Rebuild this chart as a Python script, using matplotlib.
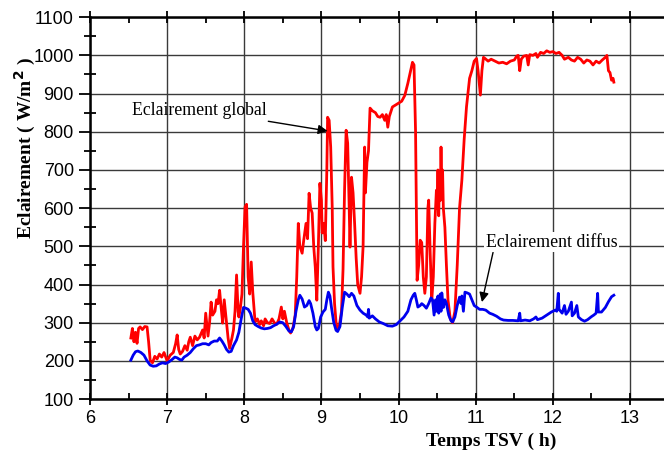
import matplotlib.pyplot as plt
import numpy as np
from matplotlib.ticker import MultipleLocator

# Global irradiance (red), time in h TSV / W/m2
global_t = [6.53, 6.55, 6.57, 6.59, 6.61, 6.63, 6.65, 6.68, 6.71, 6.74, 6.76, 6.78, 6.81, 6.84, 6.87,
            6.90, 6.93, 6.96, 7.00, 7.04, 7.08, 7.11, 7.13, 7.15, 7.17, 7.20, 7.23, 7.26, 7.28, 7.30,
            7.33, 7.36, 7.39, 7.42, 7.46, 7.48, 7.50, 7.53, 7.55, 7.57, 7.59, 7.62, 7.64, 7.66, 7.68,
            7.70, 7.72, 7.74, 7.77, 7.79, 7.81, 7.84, 7.86, 7.88, 7.90, 7.92, 7.93, 7.95, 7.97, 7.99,
            8.01, 8.03, 8.05, 8.07, 8.09, 8.11, 8.14, 8.17, 8.20, 8.22, 8.25, 8.27, 8.30, 8.33, 8.36,
            8.39, 8.42, 8.45, 8.48, 8.50, 8.52, 8.55, 8.58, 8.60, 8.63, 8.66, 8.68, 8.70, 8.72, 8.75,
            8.77, 8.80, 8.82, 8.84, 8.86, 8.88, 8.90, 8.92, 8.94, 8.96, 8.98, 9.00, 9.01, 9.03, 9.05,
            9.07, 9.08, 9.10, 9.12, 9.14, 9.15, 9.17, 9.19, 9.21, 9.23, 9.26, 9.28, 9.30, 9.32, 9.34,
            9.36, 9.37, 9.39, 9.41, 9.43, 9.45, 9.47, 9.50, 9.52, 9.54, 9.56, 9.57, 9.59, 9.61, 9.63,
            9.66, 9.70, 9.73, 9.76, 9.79, 9.82, 9.84, 9.86, 9.88, 9.92, 9.96, 10.00, 10.04, 10.08, 10.12,
            10.15, 10.18, 10.20, 10.22, 10.24, 10.26, 10.28, 10.30, 10.32, 10.34, 10.36, 10.38, 10.39, 10.41, 10.43,
            10.45, 10.47, 10.49, 10.50, 10.51, 10.52, 10.53, 10.54, 10.55, 10.56, 10.57, 10.58, 10.60, 10.62, 10.64,
            10.67, 10.70, 10.73, 10.76, 10.79, 10.82, 10.85, 10.88, 10.92, 10.95, 10.98, 11.01, 11.03, 11.06, 11.08,
            11.10, 11.12, 11.16, 11.20, 11.25, 11.30, 11.35, 11.40, 11.45, 11.50, 11.53, 11.55, 11.57, 11.59, 11.62,
            11.66, 11.68, 11.70, 11.74, 11.78, 11.80, 11.84, 11.88, 11.92, 11.96, 12.00, 12.04, 12.08, 12.12, 12.15,
            12.20, 12.24, 12.28, 12.32, 12.36, 12.40, 12.44, 12.48, 12.52, 12.56, 12.60, 12.64, 12.68, 12.70, 12.72,
            12.74, 12.76, 12.78, 12.79]
global_v = [260, 285, 250, 275, 246, 285, 289, 282, 290, 289, 250, 202, 195, 212, 205,
            218, 210, 222, 200, 215, 222, 245, 268, 230, 218, 225, 240, 228, 250, 262,
            240, 265, 255, 262, 281, 260, 325, 265, 300, 354, 320, 330, 360, 350, 385,
            340, 299, 360, 300, 260, 233, 260, 281, 330, 425, 330, 315, 340, 375, 500,
            603, 610, 420, 375, 459, 380, 302, 310, 295, 305, 292, 310, 300, 298, 310,
            300, 296, 310, 341, 310, 330, 300, 280, 273, 285, 320, 420, 560, 500, 482,
            515, 560, 520, 639, 600, 587, 500, 446, 359, 500, 665, 620, 535, 560, 515,
            700, 838, 830, 760, 600, 446, 350, 300, 281, 290, 330, 440, 650, 804, 770,
            600, 498, 681, 640, 560, 470, 400, 377, 420, 500, 760, 640, 720, 750, 862,
            855, 850, 840, 838, 845, 830, 845, 812, 840, 865, 870, 875, 880, 895, 927,
            955, 982, 975, 800, 411, 450, 516, 510, 420, 377, 420, 600, 621, 480, 359,
            420, 560, 647, 600, 700, 580, 680, 620, 760, 640, 700, 600, 550, 450, 360,
            310, 300, 330, 450, 600, 673, 780, 865, 940, 960, 985, 992, 960, 896, 960,
            995, 992, 985, 990, 985, 980, 982, 978, 985, 988, 998, 1000, 960, 990, 998,
            1000, 975, 1002, 1000, 1005, 995, 1008, 1005, 1012, 1008, 1010, 1005, 1008, 1000, 990,
            995, 988, 985, 995, 990, 980, 988, 985, 975, 985, 980, 988, 995, 1000, 960,
            955, 935, 940, 930]

# Diffuse irradiance (blue)
diffus_t = [6.53, 6.56, 6.59, 6.62, 6.66, 6.70, 6.74, 6.78, 6.82, 6.86, 6.90, 6.94, 6.98, 7.02, 7.06,
            7.10, 7.13, 7.16, 7.19, 7.22, 7.26, 7.30, 7.34, 7.38, 7.42, 7.46, 7.50, 7.54, 7.57, 7.61,
            7.65, 7.68, 7.71, 7.74, 7.77, 7.80, 7.83, 7.86, 7.90, 7.93, 7.96, 7.99, 8.02, 8.05, 8.08,
            8.11, 8.14, 8.18, 8.22, 8.26, 8.30, 8.34, 8.38, 8.42, 8.46, 8.50, 8.54, 8.58, 8.61, 8.64,
            8.67, 8.70, 8.72, 8.75, 8.78, 8.81, 8.84, 8.86, 8.89, 8.92, 8.94, 8.96, 8.99, 9.02, 9.05,
            9.07, 9.09, 9.11, 9.13, 9.16, 9.19, 9.21, 9.24, 9.27, 9.30, 9.33, 9.36, 9.39, 9.42, 9.46,
            9.50, 9.54, 9.58, 9.60, 9.61, 9.62, 9.66, 9.70, 9.75, 9.80, 9.86, 9.92, 9.97, 10.02, 10.07,
            10.12, 10.16, 10.19, 10.21, 10.23, 10.25, 10.28, 10.30, 10.33, 10.36, 10.39, 10.42, 10.44, 10.46, 10.48,
            10.49, 10.51, 10.52, 10.54, 10.55, 10.56, 10.58, 10.60, 10.62, 10.65, 10.68, 10.70, 10.73, 10.76, 10.79,
            10.81, 10.82, 10.84, 10.86, 10.89, 10.92, 10.95, 10.98, 11.01, 11.05, 11.09, 11.13, 11.18, 11.22, 11.27,
            11.32, 11.36, 11.42, 11.48, 11.55, 11.57, 11.58, 11.64, 11.70, 11.75, 11.78, 11.80, 11.86, 11.92, 11.98,
            12.03, 12.05, 12.07, 12.08, 12.12, 12.15, 12.17, 12.20, 12.24, 12.25, 12.28, 12.31, 12.33, 12.37, 12.41,
            12.45, 12.50, 12.53, 12.56, 12.58, 12.59, 12.63, 12.68, 12.72, 12.76, 12.79]
diffus_v = [202, 215, 224, 226, 222, 215, 200, 189, 186, 187, 192, 195, 193, 197, 203,
            210, 208, 204, 202, 210, 215, 222, 232, 240, 242, 245, 245, 242, 248, 252,
            252, 260, 252, 242, 230, 223, 225, 240, 255, 275, 310, 340, 338, 335, 325,
            305, 295, 290, 286, 284, 285, 287, 292, 296, 302, 300, 290, 278, 276, 290,
            330, 360, 372, 362, 341, 345, 358, 350, 325, 290, 281, 285, 315, 328, 335,
            360, 380, 370, 340, 300, 280, 277, 290, 340, 380, 375, 368, 377, 370, 345,
            333, 325, 320, 315, 335, 312, 318, 310, 302, 298, 292, 291, 295, 305, 315,
            330, 360, 372, 377, 360, 341, 345, 350, 345, 338, 350, 365, 360, 320, 360,
            330, 370, 325, 375, 330, 378, 340, 360, 350, 320, 305, 302, 315, 345, 367,
            350, 370, 330, 380, 378, 375, 360, 345, 341, 335, 335, 333, 325, 322, 317,
            310, 307, 306, 306, 305, 325, 305, 307, 305, 310, 315, 308, 312, 320, 328,
            333, 330, 377, 335, 325, 345, 322, 330, 354, 318, 325, 345, 315, 308, 304,
            308, 316, 320, 325, 377, 328, 328, 340, 355, 368, 372]

fig = plt.figure(figsize=(6.64, 4.53), dpi=100)
ax = fig.add_axes([0.1355, 0.119, 0.8645, 0.843])

ax.plot(global_t, global_v, color='#ff0000', linewidth=2.0, zorder=3)
ax.plot(diffus_t, diffus_v, color='#0000ee', linewidth=2.0, zorder=3)

ax.set_xlim(6, 13.44)
ax.set_ylim(100, 1100)
ax.xaxis.set_major_locator(MultipleLocator(1))
ax.xaxis.set_minor_locator(MultipleLocator(0.5))
ax.yaxis.set_major_locator(MultipleLocator(100))
ax.yaxis.set_minor_locator(MultipleLocator(50))

# grid only on major ticks
ax.grid(True, which='major', color='#3a3a3a', linewidth=1.0)
ax.set_axisbelow(True)

ax.tick_params(axis='x', which='major', direction='inout', length=9, width=1.3, top=True,
               labelsize=13, pad=3)
ax.tick_params(axis='x', which='minor', direction='in', length=4, width=1.3, top=True)
ax.tick_params(axis='y', which='major', direction='out', length=8, width=1.3, labelsize=13)
ax.tick_params(axis='y', which='minor', direction='inout', length=8, width=1.3)
for lbl in ax.get_xticklabels() + ax.get_yticklabels():
    lbl.set_fontfamily('Liberation Sans')

for side in ['left', 'bottom', 'top']:
    ax.spines[side].set_linewidth(1.8)
ax.spines['right'].set_visible(False)

ax.set_xlabel('Temps TSV ( h)', fontfamily='Liberation Serif', fontweight='bold', fontsize=14)
ax.set_ylabel('Eclairement ( W/m$^\\mathbf{2}$ )', fontfamily='Liberation Serif', fontweight='bold',
              fontsize=14)
ax.xaxis.set_label_coords(0.699, -0.088)
ax.yaxis.set_label_coords(-0.09, 0.657)

# annotations
ax.annotate('Eclairement global', xy=(9.08, 802), xytext=(7.42, 857),
            fontfamily='Liberation Serif', fontsize=12.8, ha='center', va='center',
            arrowprops=dict(arrowstyle='-|>', color='black', lw=1.0, mutation_scale=14,
                            shrinkA=52, shrinkB=0))
ax.annotate('Eclairement diffus', xy=(11.08, 354), xytext=(11.98, 511),
            fontfamily='Liberation Serif', fontsize=12.8, ha='center', va='center',
            bbox=dict(boxstyle='square,pad=0.1', fc='white', ec='none'),
            arrowprops=dict(arrowstyle='-|>', color='black', lw=1.0, mutation_scale=14,
                            relpos=(0.06, 0.0), shrinkA=0, shrinkB=0))

plt.savefig('out.png', dpi=100)
